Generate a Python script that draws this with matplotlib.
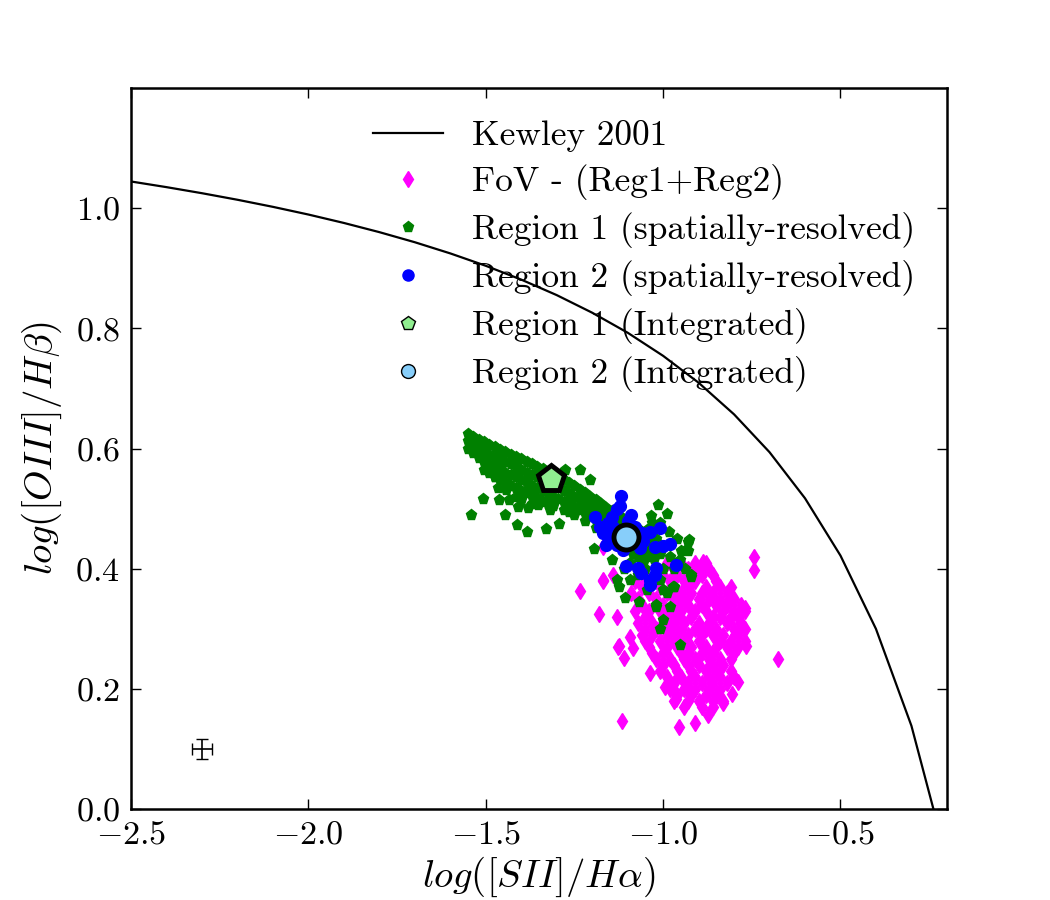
import matplotlib
matplotlib.use('Agg')
import matplotlib.pyplot as plt
from matplotlib.lines import Line2D

plt.rcParams['font.family'] = 'serif'
plt.rcParams['font.serif'] = ['cmr10']
plt.rcParams['mathtext.fontset'] = 'cm'
plt.rcParams['axes.formatter.use_mathtext'] = True

# Kewley 2001 maximum starburst line (values in 0.1 steps)
kew_x = [-2.5, -2.4, -2.3, -2.2, -2.1, -2.0, -1.9, -1.8, -1.7, -1.6, -1.5, -1.4,
         -1.3, -1.2, -1.1, -1.0, -0.9, -0.8, -0.7, -0.6, -0.5, -0.4, -0.3, -0.2]
kew_y = [1.0447, 1.0353, 1.0252, 1.0143, 1.0025, 0.9897, 0.9757, 0.9604, 0.9436,
         0.925, 0.9044, 0.8814, 0.8556, 0.8263, 0.7930, 0.7545, 0.7098, 0.6571,
         0.5941, 0.5174, 0.4220, 0.30, 0.1387, -0.0846]

# Region 1 spatially resolved: dense band, listed by column (x, list of y)
green_band_x = [-1.55, -1.535, -1.52, -1.505, -1.49, -1.475, -1.46, -1.445, -1.43,
                -1.415, -1.40, -1.385, -1.37, -1.355, -1.34, -1.325, -1.31, -1.295,
                -1.28, -1.265, -1.25, -1.235, -1.22, -1.205, -1.19, -1.175, -1.16,
                -1.145, -1.13, -1.115, -1.10, -1.085, -1.07, -1.055, -1.04, -1.025, -1.01]
green_band_y = [
    [0.625, 0.612, 0.600],
    [0.620, 0.606, 0.592],
    [0.615, 0.600, 0.585],
    [0.611, 0.596, 0.578, 0.565],
    [0.606, 0.590, 0.574, 0.560],
    [0.602, 0.586, 0.570, 0.552],
    [0.598, 0.582, 0.566, 0.548],
    [0.594, 0.578, 0.560, 0.544],
    [0.590, 0.574, 0.556, 0.538],
    [0.586, 0.570, 0.552, 0.534, 0.520],
    [0.582, 0.565, 0.548, 0.530, 0.515],
    [0.578, 0.560, 0.543, 0.526],
    [0.574, 0.556, 0.538, 0.522, 0.508],
    [0.570, 0.552, 0.534, 0.518],
    [0.566, 0.548, 0.530, 0.512],
    [0.560, 0.542, 0.525, 0.508],
    [0.556, 0.538, 0.520, 0.505],
    [0.552, 0.534, 0.516],
    [0.548, 0.530, 0.512, 0.498],
    [0.542, 0.525, 0.508, 0.494],
    [0.537, 0.520, 0.503, 0.490],
    [0.532, 0.515, 0.498],
    [0.527, 0.510, 0.493, 0.480],
    [0.520, 0.504, 0.488],
    [0.514, 0.498, 0.482, 0.468],
    [0.508, 0.492, 0.476],
    [0.502, 0.486, 0.470, 0.456],
    [0.496, 0.480, 0.464],
    [0.490, 0.474, 0.458, 0.444],
    [0.484, 0.468, 0.452],
    [0.478, 0.462, 0.446, 0.432],
    [0.472, 0.456, 0.440, 0.425],
    [0.466, 0.450, 0.434, 0.420],
    [0.460, 0.444, 0.428, 0.414],
    [0.452, 0.438, 0.422],
    [0.446, 0.430, 0.416],
    [0.440, 0.424],
]
# Region 1 spatially resolved: scattered points
green_x = [-1.543, -1.509, -1.463, -1.434, -1.446, -1.411, -1.385, -1.329, -1.294, -1.320,
           -1.466, -1.475, -1.442, -1.410, -1.382, -1.354, -1.235, -1.207, -1.277, -1.015,
           -0.989, -1.033, -1.196, -0.984, -0.927, -0.937, -0.921, -0.935, -0.953, -1.108,
           -1.068, -0.980, -1.019, -1.001, -0.973, -1.143, -1.094, -1.030, -1.010, -1.131,
           -1.094, -1.046, -1.123, -1.094, -1.046, -1.032, -1.010, -1.021, -1.001, -1.008,
           -0.953, -0.931, -0.968, -0.990, -0.929, -0.920, -1.050, -1.070, -1.110, -1.060,
           -1.020, -0.960, -0.950, -0.980, -0.970, -1.040, -1.000]
green_y = [0.489, 0.517, 0.514, 0.515, 0.490, 0.473, 0.462, 0.466, 0.475, 0.498,
           0.535, 0.552, 0.532, 0.503, 0.502, 0.507, 0.565, 0.548, 0.565, 0.507,
           0.492, 0.488, 0.433, 0.461, 0.448, 0.399, 0.387, 0.432, 0.415, 0.351,
           0.345, 0.337, 0.337, 0.365, 0.370, 0.415, 0.410, 0.420, 0.382, 0.382,
           0.382, 0.365, 0.370, 0.437, 0.465, 0.477, 0.477, 0.340, 0.315, 0.300,
           0.273, 0.445, 0.370, 0.360, 0.429, 0.390, 0.400, 0.390, 0.400, 0.420,
           0.450, 0.450, 0.430, 0.420, 0.400, 0.380, 0.400]

# Region 2 spatially resolved
blue_x = [-1.120, -1.121, -1.191, -1.090, -1.143, -1.156, -1.142, -1.170, -1.151, -1.038,
          -1.010, -1.057, -1.024, -1.001, -0.980, -0.965, -1.104, -1.071, -1.061, -1.019,
          -1.038, -1.038, -1.024, -1.113, -1.123, -1.179, -1.066, -1.080, -1.130, -1.160,
          -1.090, -1.100, -1.130, -1.060]
blue_y = [0.522, 0.504, 0.486, 0.490, 0.487, 0.477, 0.470, 0.460, 0.453, 0.462,
          0.468, 0.446, 0.437, 0.438, 0.441, 0.407, 0.404, 0.401, 0.393, 0.401,
          0.382, 0.373, 0.390, 0.432, 0.457, 0.470, 0.435, 0.470, 0.440, 0.440,
          0.450, 0.480, 0.500, 0.460]

# FoV - (Reg1+Reg2): dense core listed by row (y, list of x)
fov_rows_y = [0.41, 0.40, 0.39, 0.38, 0.37, 0.36, 0.35, 0.34, 0.33, 0.32, 0.31, 0.30,
              0.29, 0.28, 0.27, 0.26, 0.25, 0.24, 0.23, 0.22, 0.21, 0.20, 0.19, 0.18, 0.17]
fov_rows_x = [
    [-0.99, -0.95, -0.91, -0.88],
    [-1.02, -0.97, -0.93, -0.90, -0.87],
    [-1.05, -1.00, -0.96, -0.92, -0.89, -0.86],
    [-1.08, -1.03, -0.98, -0.94, -0.91, -0.85],
    [-1.06, -1.01, -0.97, -0.93, -0.88, -0.84, -0.81],
    [-1.09, -1.04, -0.99, -0.95, -0.92, -0.89, -0.86, -0.82],
    [-1.07, -1.02, -0.97, -0.94, -0.90, -0.87, -0.84, -0.80],
    [-1.06, -1.00, -0.96, -0.93, -0.89, -0.85, -0.82, -0.78],
    [-1.08, -1.04, -1.01, -0.98, -0.95, -0.91, -0.88, -0.83, -0.80, -0.77],
    [-1.05, -0.99, -0.96, -0.92, -0.86, -0.84, -0.81, -0.79],
    [-1.07, -1.03, -1.00, -0.97, -0.94, -0.90, -0.87, -0.82, -0.78],
    [-1.05, -1.02, -0.98, -0.95, -0.91, -0.88, -0.85, -0.80, -0.77],
    [-1.06, -1.03, -0.99, -0.96, -0.93, -0.89, -0.86, -0.83, -0.79],
    [-1.05, -1.01, -0.97, -0.94, -0.90, -0.84, -0.81, -0.77],
    [-1.04, -0.99, -0.96, -0.92, -0.88, -0.85, -0.82, -0.79],
    [-1.03, -1.00, -0.95, -0.93, -0.89, -0.86, -0.80],
    [-1.02, -0.98, -0.94, -0.91, -0.87, -0.84, -0.81],
    [-1.00, -0.97, -0.93, -0.90, -0.86, -0.83],
    [-1.01, -0.96, -0.92, -0.88, -0.85, -0.81],
    [-0.99, -0.95, -0.91, -0.87, -0.84, -0.80],
    [-0.97, -0.93, -0.89, -0.86, -0.82],
    [-0.98, -0.94, -0.91, -0.87, -0.84],
    [-0.96, -0.92, -0.88, -0.85],
    [-0.97, -0.93, -0.90, -0.86, -0.83],
    [-0.94, -0.89, -0.86],
]
# FoV - (Reg1+Reg2): scattered points
fov_x = [-1.235, -1.181, -1.130, -1.170, -1.124, -1.111, -1.086, -1.092, -1.115, -0.956,
         -0.909, -0.874, -0.806, -0.789, -0.832, -0.675, -0.745, -0.745, -0.888, -0.766,
         -0.770, -0.812, -0.963, -0.996, -1.038, -1.170, -1.142, -1.169, -1.128]
fov_y = [0.363, 0.325, 0.319, 0.382, 0.271, 0.252, 0.268, 0.287, 0.146, 0.137,
         0.144, 0.157, 0.192, 0.212, 0.177, 0.250, 0.419, 0.398, 0.412, 0.272,
         0.335, 0.348, 0.184, 0.204, 0.227, 0.437, 0.390, 0.380, 0.270]

# integrated values
reg1_int = (-1.317, 0.550)
reg2_int = (-1.106, 0.453)

# typical error bar
err_x, err_y = -2.3, 0.1
err_dx, err_dy = 0.028, 0.017

gx = [x for x, ys in zip(green_band_x, green_band_y) for y in ys] + green_x
gy = [y for x, ys in zip(green_band_x, green_band_y) for y in ys] + green_y
mx = [x for y, xs in zip(fov_rows_y, fov_rows_x) for x in xs] + fov_x
my = [y for y, xs in zip(fov_rows_y, fov_rows_x) for x in xs] + fov_y

fig = plt.figure(figsize=(10.5, 9), dpi=100)
ax = fig.add_axes([0.1248, 0.101, 0.777, 0.801])

ax.plot(kew_x, kew_y, color='k', lw=1.6)
ax.plot(mx, my, ls='none', marker='d', ms=8.5, color='magenta', mec='magenta')
ax.plot(gx, gy, ls='none', marker='p', ms=8, color='green', mec='green')
ax.plot(blue_x, blue_y, ls='none', marker='o', ms=8.5, color='blue', mec='blue')
ax.plot(*reg1_int, ls='none', marker='p', ms=20, mfc='lightgreen', mec='k', mew=3.5)
ax.plot(*reg2_int, ls='none', marker='o', ms=18, mfc='lightskyblue', mec='k', mew=3.5)
ax.errorbar(err_x, err_y, xerr=err_dx, yerr=err_dy, color='k', lw=1.2, capsize=4)

ax.set_xlim(-2.5, -0.2)
ax.set_ylim(0.0, 1.2)
ax.set_xticks([-2.5, -2.0, -1.5, -1.0, -0.5])
ax.set_yticks([0.0, 0.2, 0.4, 0.6, 0.8, 1.0])
ax.tick_params(direction='in', top=True, right=True, length=7, width=1,
               labelsize=24.5, pad=8)
for s in ax.spines.values():
    s.set_linewidth(1.8)

ax.set_xlabel(r'$log([SII]/H\alpha)$', fontsize=28, labelpad=4)
ax.set_ylabel(r'$log([OIII]/H\beta)$', fontsize=28, labelpad=8)

handles = [
    Line2D([], [], color='k', lw=1.6),
    Line2D([], [], ls='none', marker='d', ms=8, color='magenta', mec='magenta'),
    Line2D([], [], ls='none', marker='p', ms=8, color='green', mec='green'),
    Line2D([], [], ls='none', marker='o', ms=8, color='blue', mec='blue'),
    Line2D([], [], ls='none', marker='p', ms=10, mfc='lightgreen', mec='k', mew=1),
    Line2D([], [], ls='none', marker='o', ms=10, mfc='lightskyblue', mec='k', mew=1),
]
labels = ['Kewley 2001', 'FoV - (Reg1+Reg2)', 'Region 1 (spatially-resolved)',
          'Region 2 (spatially-resolved)', 'Region 1 (Integrated)', 'Region 2 (Integrated)']
ax.legend(handles, labels, loc='upper right', frameon=False, fontsize=25.5,
          numpoints=1, labelspacing=0.34, handletextpad=0.8, borderaxespad=0.5)

fig.savefig('out.png', dpi=100)
